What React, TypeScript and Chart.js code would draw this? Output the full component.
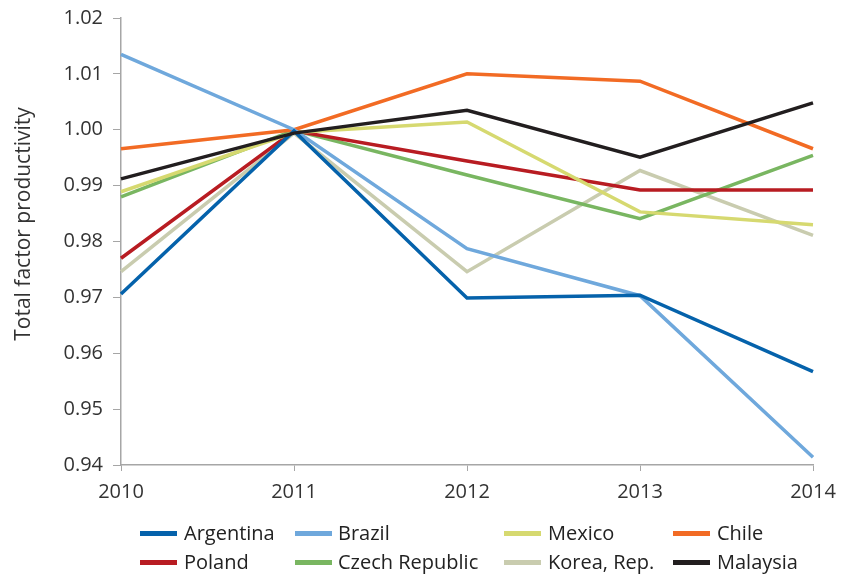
import React, { useEffect, useRef } from "react";
import { Chart, registerables } from "chart.js";

Chart.register(...registerables);

const years = ["2010", "2011", "2012", "2013", "2014"];
const argentina = [0.9706, 0.9998, 0.9699, 0.9704, 0.9567];
const brazil = [1.0135, 1.0, 0.9787, 0.9703, 0.9414];
const mexico = [0.9889, 0.9995, 1.0014, 0.9853, 0.983];
const chile = [0.9966, 1.0, 1.01, 1.0087, 0.9966];
const poland = [0.977, 0.9998, 0.9944, 0.9892, 0.9892];
const czech = [0.988, 0.9999, 0.9919, 0.9841, 0.9954];
const korea = [0.9746, 0.9994, 0.9746, 0.9927, 0.9811];
const malaysia = [0.9912, 0.9994, 1.0035, 0.9951, 1.0048];
const yTitle = "Total factor productivity";

const series = [
  { label: "Argentina", data: argentina, color: "#0562AB" },
  { label: "Brazil", data: brazil, color: "#6FA8DC" },
  { label: "Mexico", data: mexico, color: "#D6D970" },
  { label: "Chile", data: chile, color: "#F26B24" },
  { label: "Poland", data: poland, color: "#B81C22" },
  { label: "Czech Republic", data: czech, color: "#79B661" },
  { label: "Korea, Rep.", data: korea, color: "#C9CCAF" },
  { label: "Malaysia", data: malaysia, color: "#221E1F" },
];

const FONT = "'Open Sans', sans-serif";

const yTitlePlugin = {
  id: "yTitlePlugin",
  afterDraw(chart: any) {
    const c = chart.ctx;
    c.save();
    c.translate(24, 224);
    c.rotate(-Math.PI / 2);
    c.font = `21px ${FONT}`;
    c.fillStyle = "#333";
    c.textAlign = "center";
    c.textBaseline = "middle";
    c.fillText(yTitle, 0, 0);
    c.restore();
  },
};

export default function App() {
  const ref = useRef<HTMLCanvasElement>(null);
  useEffect(() => {
    const ctx = ref.current!;
    const chart = new Chart(ctx, {
      type: "line",
      data: {
        labels: years,
        datasets: series.map((s, i) => ({
          label: s.label,
          data: s.data,
          borderColor: s.color,
          backgroundColor: s.color,
          borderWidth: 3.5,
          pointRadius: 0,
          tension: 0,
          fill: false,
          order: s.label === "Malaysia" ? 0 : i + 1,
        })),
      },
      plugins: [yTitlePlugin],
      options: {
        animation: false,
        responsive: false,
        layout: { padding: { left: 0, right: 35, top: 18, bottom: 70 } },
        plugins: { legend: { display: false }, tooltip: { enabled: false } },
        scales: {
          x: {
            type: "category",
            offset: false,
            afterFit: (s: any) => {
              s.height = 40;
            },
            grid: {
              drawOnChartArea: false,
              drawTicks: true,
              tickLength: 6,
              color: "#a6a6a6",
            },
            border: { display: true, color: "#a6a6a6", width: 1.5 },
            ticks: {
              color: "#333",
              font: { family: FONT, size: 20 },
              padding: 9,
              maxRotation: 0,
            },
          },
          y: {
            min: 0.94,
            max: 1.02,
            afterFit: (s: any) => {
              s.width = 121;
              s.paddingTop = 0;
              s.paddingBottom = 0;
            },
            grid: {
              drawOnChartArea: false,
              drawTicks: true,
              tickLength: 8,
              color: "#a6a6a6",
            },
            border: { display: true, color: "#a6a6a6", width: 1.5 },
            ticks: {
              stepSize: 0.01,
              color: "#333",
              font: { family: FONT, size: 20 },
              padding: 10,
              callback: (v: any) => Number(v).toFixed(2),
            },
          },
        },
      },
    });
    return () => chart.destroy();
  }, []);

  const cols = [
    { sw: 140, tx: 184 },
    { sw: 295, tx: 338 },
    { sw: 504, tx: 548 },
    { sw: 673, tx: 717 },
  ];
  const rows = [533, 562];

  return (
    <div
      style={{
        position: "absolute",
        left: 0,
        top: 0,
        width: 848,
        height: 575,
        background: "#fff",
        fontFamily: FONT,
      }}
    >
      <canvas ref={ref} width={848} height={575} style={{ display: "block" }} />
      {series.map((s, i) => {
        const c = cols[i % 4];
        const y = rows[Math.floor(i / 4)];
        return (
          <React.Fragment key={s.label}>
            <div
              style={{
                position: "absolute",
                left: c.sw,
                top: y - 2,
                width: 37,
                height: 5,
                background: s.color,
              }}
            />
            <div
              style={{
                position: "absolute",
                left: c.tx,
                top: y - 14,
                fontSize: 20,
                lineHeight: "28px",
                color: "#222",
                whiteSpace: "nowrap",
              }}
            >
              {s.label}
            </div>
          </React.Fragment>
        );
      })}
    </div>
  );
}
